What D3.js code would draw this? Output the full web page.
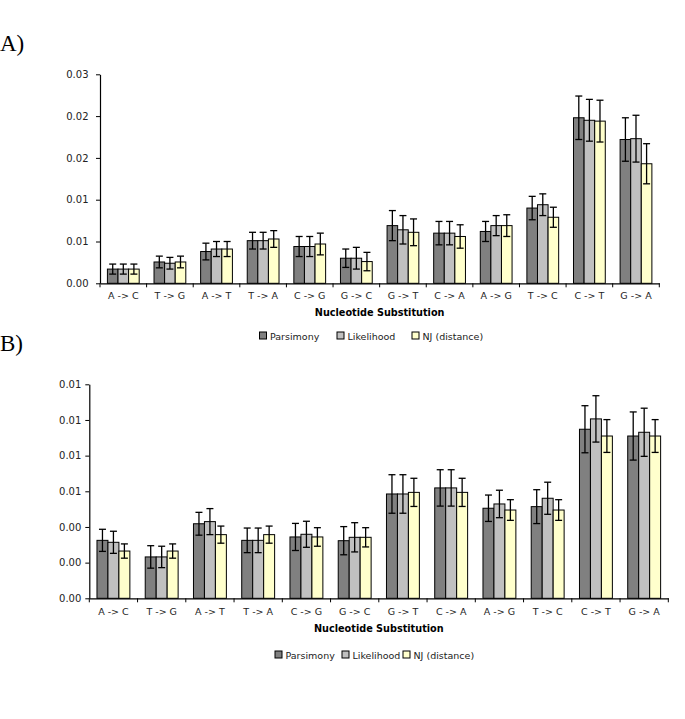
<!DOCTYPE html>
<html><head><meta charset="utf-8">
<script src="https://cdn.jsdelivr.net/npm/d3@7"></script>
<style>body{margin:0;background:#fff}svg{display:block}</style>
</head><body>
<svg id="chart" width="685" height="719"></svg>
<script>
const categories = ["A -> C","T -> G","A -> T","T -> A","C -> G","G -> C","G -> T","C -> A","A -> G","T -> C","C -> T","G -> A"];
const seriesNames = ["Parsimony","Likelihood","NJ (distance)"];
const seriesColors = ["#808080","#c0c0c0","#ffffcc"];

// Panel A
const parsimonyA = [0.0017,0.00255,0.0038,0.0051,0.0044,0.0030,0.0069,0.0060,0.0062,0.0090,0.0198,0.0172];
const parsimonyErrA = [0.0006,0.0007,0.0010,0.0010,0.0012,0.0011,0.0018,0.0014,0.0012,0.0014,0.0026,0.0026];
const likelihoodA = [0.0017,0.0024,0.0041,0.0051,0.0044,0.0030,0.0064,0.0060,0.0069,0.0094,0.0195,0.0173];
const likelihoodErrA = [0.0006,0.0007,0.0009,0.0010,0.0012,0.0013,0.0017,0.0014,0.0012,0.0013,0.0025,0.0028];
const njA = [0.0017,0.00255,0.0041,0.0053,0.0047,0.0026,0.0061,0.0056,0.0069,0.0079,0.0194,0.0143];
const njErrA = [0.0006,0.0007,0.0009,0.0010,0.0013,0.0011,0.0016,0.0014,0.0013,0.0012,0.0025,0.0024];
const tickValuesA = [0,0.005,0.01,0.015,0.02,0.025];
const tickLabelsA = ["0.00","0.01","0.01","0.02","0.02","0.03"];

// Panel B
const parsimonyB = [0.00325,0.00232,0.00418,0.00325,0.00344,0.00323,0.00585,0.00619,0.00505,0.00514,0.00948,0.0091];
const parsimonyErrB = [0.00062,0.00063,0.00064,0.00069,0.00076,0.00079,0.00108,0.00102,0.00074,0.00095,0.00132,0.00135];
const likelihoodB = [0.00314,0.00232,0.0043,0.00325,0.00359,0.00342,0.00585,0.00619,0.00529,0.00561,0.01006,0.00931];
const likelihoodErrB = [0.00062,0.0006,0.00073,0.00069,0.00073,0.00082,0.00108,0.00102,0.00077,0.0009,0.0013,0.00135];
const njB = [0.00265,0.00265,0.00357,0.00357,0.00344,0.00342,0.00594,0.00594,0.00495,0.00495,0.0091,0.0091];
const njErrB = [0.0004,0.0004,0.00048,0.00048,0.00052,0.00054,0.00079,0.00079,0.00058,0.00058,0.00092,0.00092];
const tickValuesB = [0,0.002,0.004,0.006,0.008,0.010,0.012];
const tickLabelsB = ["0.00","0.00","0.00","0.01","0.01","0.01","0.01"];

const svg = d3.select("#chart");
const FONT = "'DejaVu Sans', Verdana, sans-serif";

function panel(cfg) {
  const g = svg.append("g");
  const x = d3.scaleBand().domain(categories).range([cfg.x0, cfg.x1]).paddingInner(0).paddingOuter(0);
  const y = d3.scaleLinear().domain([0, cfg.ymax]).range([cfg.y0, cfg.yTop]);
  const inner = d3.scaleBand().domain(seriesNames).range([0, x.bandwidth()]).paddingInner(0).paddingOuter(cfg.pad);
  const series = [
    {name: seriesNames[0], vals: cfg.data[0], errs: cfg.errs[0], color: seriesColors[0]},
    {name: seriesNames[1], vals: cfg.data[1], errs: cfg.errs[1], color: seriesColors[1]},
    {name: seriesNames[2], vals: cfg.data[2], errs: cfg.errs[2], color: seriesColors[2]}
  ];
  series.forEach(s => {
    g.selectAll(null).data(categories).enter().append("rect")
      .attr("x", (c) => x(c) + inner(s.name))
      .attr("y", (c,i) => y(s.vals[i]))
      .attr("width", inner.bandwidth())
      .attr("height", (c,i) => y(0) - y(s.vals[i]))
      .attr("fill", s.color).attr("stroke", "#000").attr("stroke-width", 1);
  });
  series.forEach(s => {
    const eg = g.selectAll(null).data(categories).enter().append("g");
    const cx = c => x(c) + inner(s.name) + inner.bandwidth()/2;
    eg.append("line")
      .attr("x1", cx).attr("x2", cx)
      .attr("y1", (c,i) => y(s.vals[i] - s.errs[i]))
      .attr("y2", (c,i) => y(s.vals[i] + s.errs[i]))
      .attr("stroke", "#000").attr("stroke-width", 1.3);
    [1,-1].forEach(sg => {
      eg.append("line")
        .attr("x1", c => cx(c) - 3.5).attr("x2", c => cx(c) + 3.5)
        .attr("y1", (c,i) => y(s.vals[i] + sg*s.errs[i]))
        .attr("y2", (c,i) => y(s.vals[i] + sg*s.errs[i]))
        .attr("stroke", "#000").attr("stroke-width", 1.3);
    });
  });
  const yAxis = d3.axisLeft(y).tickValues(cfg.tickValues).tickSize(4).tickSizeOuter(0)
    .tickFormat((d,i) => cfg.tickLabels[i]);
  const ya = g.append("g").attr("transform", `translate(${cfg.x0},0)`).call(yAxis);
  ya.select(".domain").attr("stroke", "#000").attr("stroke-width", 1.2);
  ya.selectAll(".tick line").attr("stroke", "#000");
  ya.selectAll(".tick text").attr("font-family", FONT).attr("font-size", "10px").attr("fill", "#222").attr("x", cfg.labelDx);
  const xa = g.append("g").attr("transform", `translate(0,${cfg.y0})`)
    .call(d3.axisBottom(x).tickSize(0).tickSizeOuter(0));
  xa.select(".domain").attr("stroke", "#000").attr("stroke-width", 1.2);
  xa.selectAll(".tick text").attr("font-family", FONT).attr("font-size", "9.5px").attr("fill", "#222").attr("y", cfg.catY);
  const bounds = categories.map(c => x(c)).concat([cfg.x1]);
  xa.selectAll(".sep").data(bounds).enter().append("line")
    .attr("x1", d => d).attr("x2", d => d).attr("y1", 0).attr("y2", 4)
    .attr("stroke", "#000").attr("stroke-width", 1);
  g.append("text").attr("x", (cfg.x0 + cfg.x1)/2).attr("y", cfg.titleY)
    .attr("text-anchor", "middle").attr("font-family", FONT).attr("font-weight", "bold")
    .attr("font-size", "9.7px").attr("fill", "#000").text("Nucleotide Substitution");
  series.forEach((s, i) => {
    const lx = cfg.legendX[i];
    g.append("rect").attr("x", lx).attr("y", cfg.legendY - 4).attr("width", 7).attr("height", 7)
      .attr("fill", s.color).attr("stroke", "#000").attr("stroke-width", 1);
    g.append("text").attr("x", lx + 10.5).attr("y", cfg.legendY + 3.5)
      .attr("font-family", FONT).attr("font-size", "9.5px").attr("fill", "#222").text(s.name);
  });
  svg.append("text").attr("x", 0).attr("y", cfg.labelY)
    .attr("font-family", "'Liberation Serif', 'Times New Roman', serif").attr("font-size", "23px")
    .attr("fill", "#000").text(cfg.label);
}

panel({
  label: "A)", labelY: 51,
  x0: 100, x1: 659.3, y0: 283.3, yTop: 74.3, ymax: 0.025, pad: 0.7,
  data: [parsimonyA, likelihoodA, njA], errs: [parsimonyErrA, likelihoodErrA, njErrA],
  tickValues: tickValuesA, tickLabels: tickLabelsA, labelDx: -11.5, catY: 9,
  titleY: 316, legendX: [259.5, 337, 412], legendY: 336
});
panel({
  label: "B)", labelY: 351,
  x0: 89.3, x1: 668.3, y0: 598.3, yTop: 384.3, ymax: 0.012, pad: 0.7,
  data: [parsimonyB, likelihoodB, njB], errs: [parsimonyErrB, likelihoodErrB, njErrB],
  tickValues: tickValuesB, tickLabels: tickLabelsB, labelDx: -8, catY: 9.5,
  titleY: 632, legendX: [275, 342, 403], legendY: 655
});
</script>
</body></html>
